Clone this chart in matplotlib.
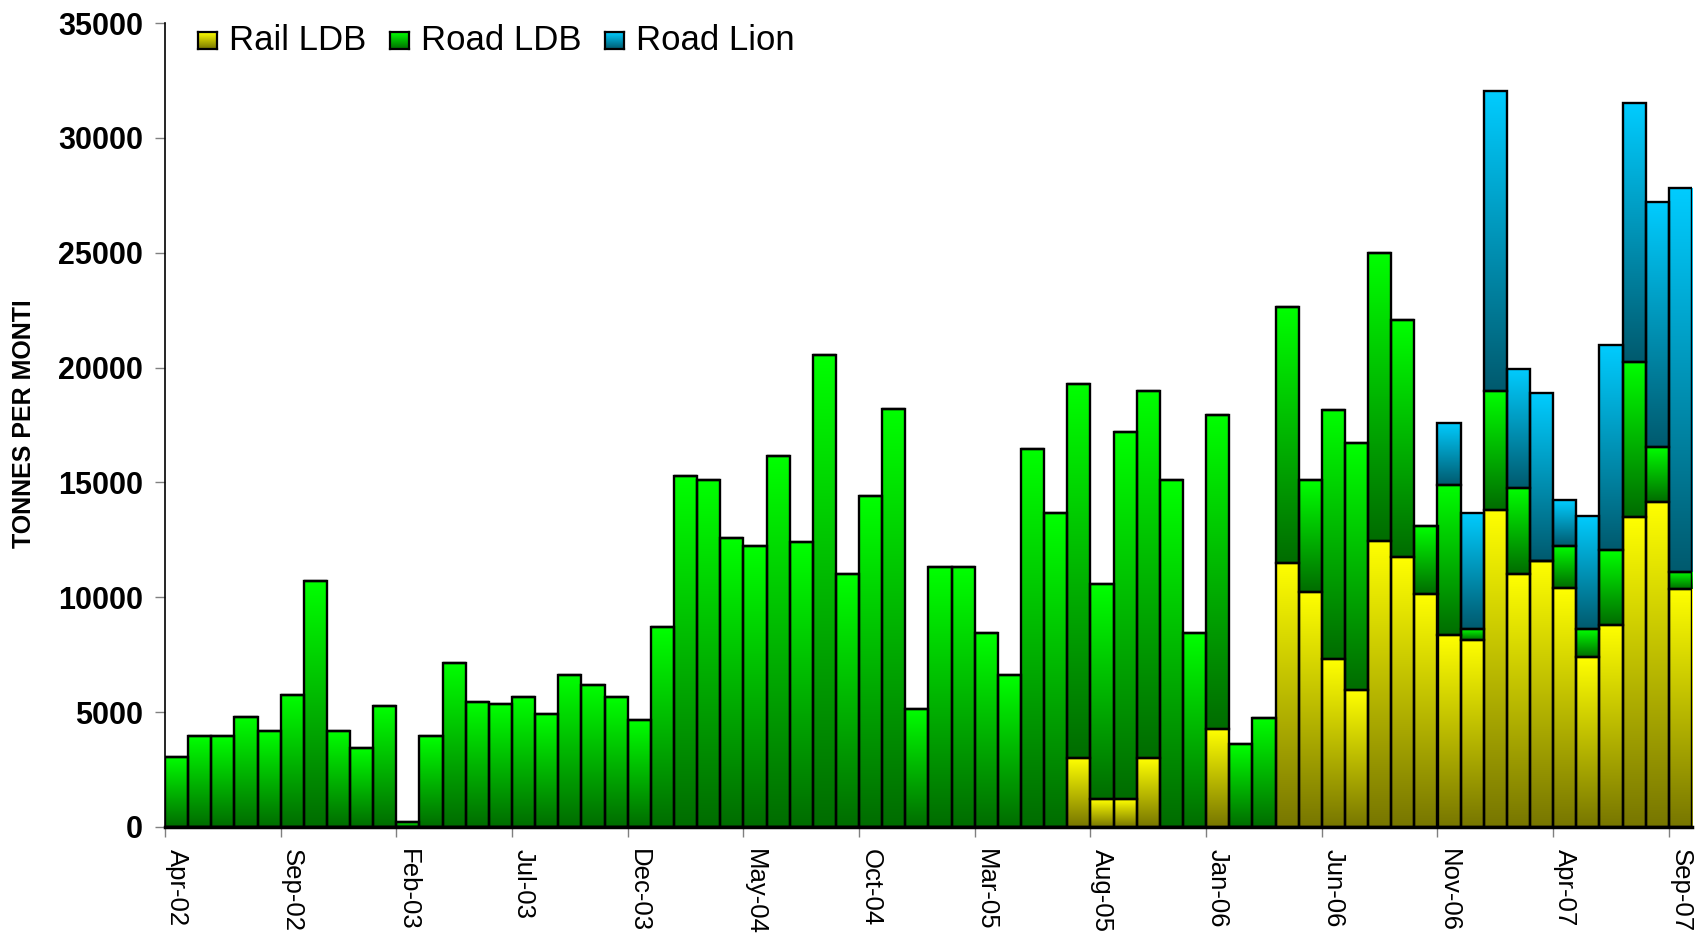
import numpy as np
import matplotlib
matplotlib.use("Agg")
import matplotlib.pyplot as plt
from matplotlib.colors import LinearSegmentedColormap
from matplotlib.patches import Rectangle

plt.rcParams['font.family'] = ['Liberation Sans', 'DejaVu Sans']

# monthly tonnes, Apr-02 .. Sep-07
rail_ldb = [0, 0, 0, 0, 0, 0, 0, 0, 0, 0,
            0, 0, 0, 0, 0, 0, 0, 0, 0, 0,
            0, 0, 0, 0, 0, 0, 0, 0, 0, 0,
            0, 0, 0, 0, 0, 0, 0, 0, 0, 3000,
            1200, 1200, 3000, 0, 0, 4250, 0, 0, 11500, 10250,
            7300, 5950, 12450, 11750, 10150, 8350, 8150, 13800, 11000, 11600,
            10400, 7400, 8800, 13500, 14150, 10350]
road_ldb = [3050, 3950, 3950, 4800, 4200, 5750, 10700, 4200, 3450, 5250,
            200, 3950, 7150, 5450, 5350, 5650, 4900, 6600, 6200, 5650,
            4650, 8700, 15300, 15100, 12600, 12250, 16150, 12400, 20550, 11000,
            14400, 18200, 5150, 11300, 11300, 8450, 6600, 16450, 13650, 16300,
            9400, 16000, 16000, 15100, 8450, 13700, 3600, 4750, 11150, 4850,
            10850, 10750, 12550, 10300, 2950, 6550, 450, 5200, 3750, 0,
            1850, 1200, 3250, 6750, 2400, 750]
road_lion = [0] * 55 + [2700, 5050, 13050, 5200, 7300,
                        2000, 4950, 8950, 11250, 10650, 16700]

tick_labels = ["Apr-02", "Sep-02", "Feb-03", "Jul-03", "Dec-03", "May-04",
               "Oct-04", "Mar-05", "Aug-05", "Jan-06", "Jun-06", "Nov-06",
               "Apr-07", "Sep-07"]
series_names = ["Rail LDB", "Road LDB", "Road Lion"]

# gradient (bottom colour, top colour) per series
grads = [("#777600", "#FFFF00"), ("#006C00", "#00FF00"), ("#005A6E", "#00CCFF")]
cmaps = [LinearSegmentedColormap.from_list(n, g) for n, g in zip(series_names, grads)]
ramp = np.linspace(0, 1, 256).reshape(-1, 1)

W, H = 1699, 936
fig = plt.figure(figsize=(W / 100, H / 100), dpi=100)
ax = fig.add_axes([165 / W, 109 / H, (1692 - 165) / W, 804 / H])

n = len(road_ldb)
x = np.arange(n)
bottom = np.zeros(n)
for vals, cmap in zip([rail_ldb, road_ldb, road_lion], cmaps):
    vals = np.array(vals, dtype=float)
    for i in range(n):
        if vals[i] <= 0:
            continue
        ax.imshow(ramp, extent=[x[i], x[i] + 1, bottom[i], bottom[i] + vals[i]],
                  origin='lower', cmap=cmap, aspect='auto', interpolation='bilinear', zorder=2)
    ax.bar(x, vals, bottom=bottom, width=1, align='edge', facecolor='none',
           edgecolor='black', linewidth=1.7, zorder=3)
    bottom += vals

ax.set_xlim(0, n)
ax.set_ylim(0, 35000)
ax.set_aspect('auto')

ax.set_yticks(np.arange(0, 35001, 5000))
ax.tick_params(axis='y', length=7, width=1, color='#808080', pad=9, labelsize=22)
for t in ax.get_yticklabels():
    t.set_fontweight('bold')

label_pos = np.arange(0, n, 5)
ax.set_xticks(label_pos + 0.5)
ax.set_xticklabels(tick_labels, rotation=-90, fontsize=18.5, va='top', ha='center')
ax.tick_params(axis='x', which='major', length=0, pad=16)
ax.set_xticks(label_pos, minor=True)
ax.tick_params(axis='x', which='minor', length=7, width=1, color='#808080')

for s in ['top', 'right']:
    ax.spines[s].set_visible(False)
ax.spines['left'].set_linewidth(1.2)
ax.spines['bottom'].set_linewidth(2.5)
ax.spines['bottom'].set_zorder(4)

# y label; its top is cut off in the original
fig.text(24 / W, (H - 548) / H, "TONNES PER MONTH", rotation=90,
         ha='center', va='bottom', fontsize=18, fontweight='bold')
fig.patches.append(Rectangle((0, (H - 302) / H), 55 / W, 60 / H, transform=fig.transFigure,
                             facecolor='white', edgecolor='none', zorder=10))

# legend with gradient swatches
sw_x = [198, 390, 605]
tx_x = [229, 421, 636]
for k in range(3):
    sax = fig.add_axes([sw_x[k] / W, (H - 49) / H, 19 / W, 17 / H])
    sax.imshow(ramp, origin='lower', cmap=cmaps[k], aspect='auto', extent=[0, 1, 0, 1])
    sax.set_xticks([])
    sax.set_yticks([])
    for sp in sax.spines.values():
        sp.set_linewidth(1.6)
    fig.text(tx_x[k] / W, (H - 40) / H, series_names[k], fontsize=25,
             ha='left', va='center')

fig.savefig("out.png", dpi=100)
